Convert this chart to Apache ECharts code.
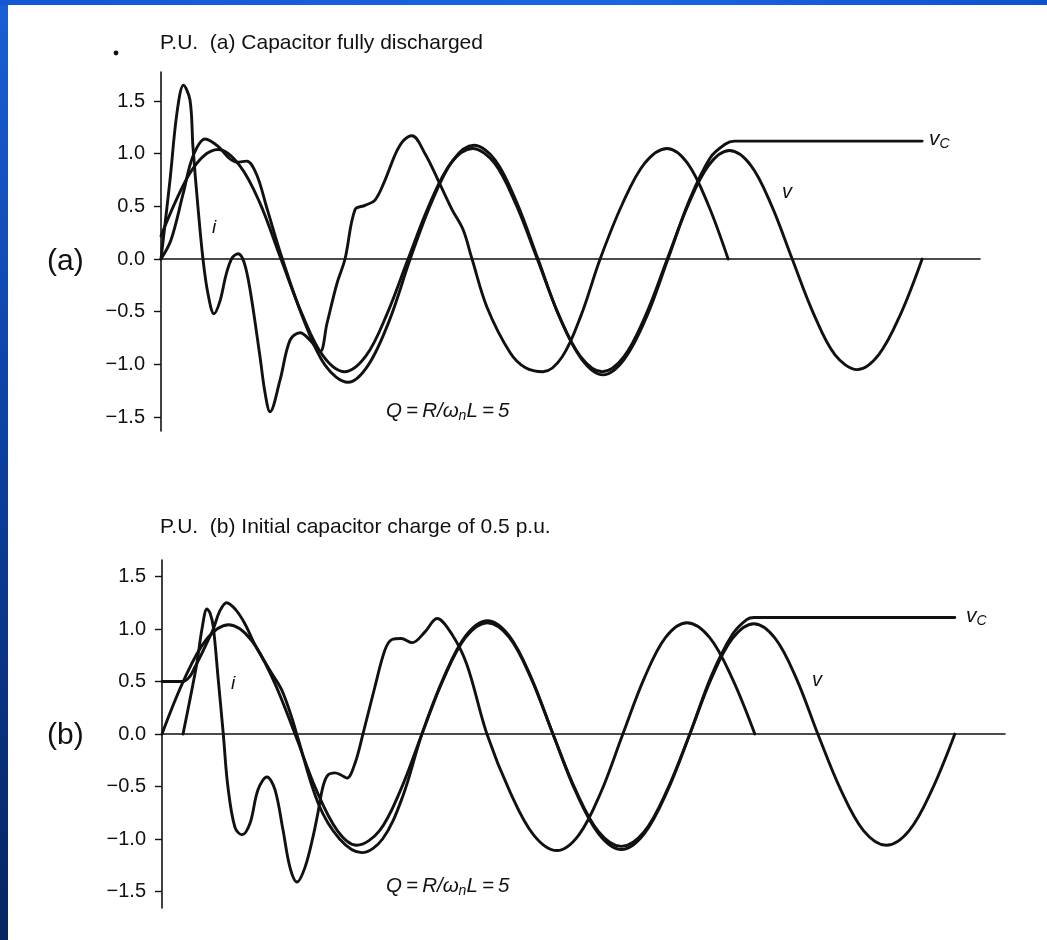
<!DOCTYPE html>
<html><head><meta charset="utf-8">
<script src="https://cdn.jsdelivr.net/npm/echarts@6/dist/echarts.min.js"></script>
<style>html,body{margin:0;padding:0;background:#fff;}#c{width:1047px;height:940px;}</style>
</head><body><div id="c"></div>
<script>
// time axis in electrical degrees from switch closing; values in p.u.
const yTicks = [-1.5, -1.0, -0.5, 0, 0.5, 1.0, 1.5];

// Panel (a): capacitor fully discharged
const vA = [[0,0.22],[20,0.54],[40,0.81],[60,0.98],[80,1.04],[110,0.89],[138,0.54],[168,0],[198,-0.53],[227,-0.92],[257,-1.07],[287,-0.92],[316,-0.53],[346,0],[376,0.52],[406,0.91],[436,1.05],[467,0.91],[497,0.52],[527,0],[557,-0.53],[588,-0.93],[618,-1.07],[648,-0.93],[679,-0.53],[709,0],[738,0.51],[767,0.89],[796,1.03],[826,0.89],[855,0.51],[884,0],[914,-0.52],[944,-0.91],[975,-1.05],[1005,-0.91],[1036,-0.52],[1066,0]];
const vcA = [[0,0],[14,0.18],[31,0.62],[45,0.98],[62,1.14],[80,1.07],[95,0.96],[106,0.92],[120,0.93],[134,0.8],[148,0.49],[170,0],[200,-0.58],[230,-1.01],[262,-1.17],[290,-1.01],[320,-0.58],[349,0],[379,0.54],[409,0.94],[438,1.08],[468,0.94],[498,0.54],[528,0],[558,-0.55],[589,-0.95],[619,-1.1],[649,-0.95],[680,-0.55],[710,0],[740,0.56],[769,0.96],[790,1.09],[803,1.12],[1066,1.12]];
const iA = [[0,0],[12.6,0.75],[22.4,1.39],[31.5,1.65],[40.6,1.51],[44.8,1.06],[51.8,0.49],[58.8,0],[65.8,-0.33],[74.2,-0.52],[82.6,-0.4],[91.1,-0.15],[99.5,0.01],[107.9,0.05],[116.3,-0.03],[124.7,-0.29],[138.7,-0.93],[145.7,-1.27],[152.7,-1.45],[166.7,-1.15],[180.7,-0.77],[194.7,-0.7],[208.7,-0.77],[222.7,-0.88],[232.5,-0.61],[246.5,-0.23],[257.7,0],[271.8,0.47],[285.8,0.51],[299.8,0.56],[313.8,0.75],[327.8,0.99],[339,1.12],[351.6,1.17],[369.8,1.0],[388,0.75],[407.6,0.47],[423,0.28],[435.6,0],[456.7,-0.46],[489,-0.89],[510,-1.03],[535,-1.07],[561.7,-0.93],[588.3,-0.535],[615,0],[646.3,0.525],[677.5,0.91],[708.8,1.05],[737.3,0.91],[765.8,0.525],[794.3,0]];

// Panel (b): initial capacitor charge of 0.5 p.u.
const vB = [[0,0],[30,0.52],[60,0.9],[90,1.04],[120,0.9],[150,0.52],[179.7,0],[208.3,-0.53],[236.9,-0.92],[263,-1.06],[294,-0.92],[322.6,-0.53],[351.2,0],[380.7,0.53],[410.2,0.92],[439.7,1.06],[469.2,0.92],[498.7,0.53],[528.2,0],[559,-0.535],[589.9,-0.93],[620.7,-1.07],[651.5,-0.93],[682.4,-0.535],[713.2,0],[742,0.525],[770.8,0.91],[799.7,1.05],[828.5,0.91],[857.3,0.525],[886.1,0],[917,-0.53],[947.8,-0.92],[978.7,-1.06],[1009.5,-0.92],[1040.4,-0.53],[1071.2,0]];
const vcB = [[0,0.5],[28.4,0.5],[37.8,0.55],[44.6,0.64],[51.3,0.73],[58.1,0.83],[69.3,1.0],[78,1.17],[87.4,1.25],[100,1.18],[112,1.05],[125.6,0.85],[148,0.58],[161.7,0.42],[175.2,0.16],[182,0],[211,-0.66],[240,-1.0],[270,-1.13],[298,-1.0],[325,-0.6],[351.2,0],[380.7,0.54],[410.2,0.935],[439.7,1.08],[469.2,0.935],[498.7,0.54],[528.2,0],[559,-0.55],[589.9,-0.95],[620.7,-1.1],[651.5,-0.95],[682.4,-0.55],[713.2,0],[742,0.55],[770.8,0.95],[790,1.09],[800,1.11],[1071.2,1.11]];
const iB = [[28.4,0],[37.8,0.33],[47.3,0.68],[54,1.0],[60.8,1.19],[65,1.15],[69.3,1.02],[76.1,0.51],[82.8,0],[89,-0.5],[98.6,-0.89],[108,-0.96],[118.9,-0.85],[129.7,-0.53],[141.8,-0.41],[152.6,-0.53],[163.4,-0.91],[172.9,-1.27],[182.4,-1.41],[193.2,-1.27],[204,-0.98],[210.7,-0.75],[217.5,-0.5],[224.2,-0.39],[233.7,-0.37],[241.8,-0.39],[249.9,-0.42],[260.7,-0.28],[271.5,0],[287.7,0.45],[301.2,0.8],[310.7,0.9],[323,0.91],[338,0.87],[355,0.97],[371.5,1.1],[391.7,0.95],[412,0.66],[439,0],[470.5,-0.555],[502,-0.96],[533.6,-1.11],[563.3,-0.96],[593,-0.555],[622.7,0],[651.5,0.53],[680.4,0.92],[709.2,1.06],[739.8,0.92],[770.4,0.53],[801,0]];

const FONT = '"Liberation Sans", Arial, Helvetica, sans-serif';
const ink = '#111111';
function fmt(v){ return (v < 0 ? '\u2212' : '') + Math.abs(v).toFixed(1); }

function yAx(gi, min, max){
  return {type:'value', gridIndex:gi, min:min, max:max,
    axisLine:{show:true, onZero:false, lineStyle:{color:ink, width:1.6}},
    axisTick:{show:true, length:7, customValues:yTicks, lineStyle:{color:ink, width:1.4}},
    axisLabel:{show:true, customValues:yTicks, formatter:fmt, margin:16, color:ink, fontSize:20, fontFamily:FONT},
    splitLine:{show:false}};
}
function xAx(gi, max){
  return {type:'value', gridIndex:gi, min:0, max:max,
    axisLine:{show:true, onZero:true, lineStyle:{color:ink, width:1.6}},
    axisTick:{show:false}, axisLabel:{show:false}, splitLine:{show:false}};
}
function line(data, gi){
  return {type:'line', xAxisIndex:gi, yAxisIndex:gi, data:data, smooth:0.35,
    showSymbol:false, symbol:'none', lineStyle:{color:ink, width:2.9, cap:'round', join:'round'}, silent:true, z:3};
}
function txt(x, y, s, size, opt){
  return Object.assign({type:'text', z:50, style:{text:s, x:x, y:y, fill:ink,
    font: (opt && opt.italic ? 'italic ' : '') + size + 'px ' + FONT,
    textAlign:(opt && opt.align) || 'left', textVerticalAlign:'middle',
    rich:(opt && opt.rich) || undefined}});
}
const subRich = {sub:{fontSize:14, fontStyle:'italic', fontFamily:FONT, fill:ink, padding:[10,0,0,0]}};
const T = '\u2009';

const chart = echarts.init(document.getElementById('c'), null, {renderer:'canvas'});
chart.setOption({
  backgroundColor:'#ffffff',
  animation:false,
  grid:[
    {left:161, top:72, width:819, height:359},
    {left:162, top:560, width:843, height:348}
  ],
  xAxis:[xAx(0, 1147), xAx(1, 1139)],
  yAxis:[yAx(0, -1.633, 1.776), yAx(1, -1.657, 1.657)],
  series:[line(vA,0), line(vcA,0), line(iA,0), line(vB,1), line(vcB,1), line(iB,1)],
  graphic:[
    {type:'rect', z:100, shape:{x:0, y:0, width:8, height:940},
      style:{fill:new echarts.graphic.LinearGradient(0,0,0,1,[{offset:0,color:'#1a5ed6'},{offset:0.5,color:'#0a3f9e'},{offset:1,color:'#062660'}])}},
    {type:'rect', z:100, shape:{x:0, y:0, width:1047, height:5},
      style:{fill:new echarts.graphic.LinearGradient(0,0,1,0,[{offset:0,color:'#1456d4'},{offset:0.6,color:'#1a66e0'},{offset:1,color:'#0f52cc'}])}},
    {type:'circle', z:50, shape:{cx:116, cy:53, r:2.4}, style:{fill:ink}},
    txt(160, 43, 'P.U.  (a) Capacitor fully discharged', 21),
    txt(160, 527, 'P.U.  (b) Initial capacitor charge of 0.5 p.u.', 21),
    txt(47, 262, '(a)', 30),
    txt(47, 736, '(b)', 30),
    txt(214, 228, 'i', 19, {italic:true, align:'center'}),
    txt(233, 684, 'i', 19, {italic:true, align:'center'}),
    txt(787, 192, 'v', 20, {italic:true, align:'center'}),
    txt(817, 680, 'v', 20, {italic:true, align:'center'}),
    txt(929, 139, 'v{sub|C}', 21, {italic:true, rich:subRich}),
    txt(966, 616, 'v{sub|C}', 21, {italic:true, rich:subRich}),
    txt(386, 411, 'Q'+T+'='+T+'R/ω{sub|n}L'+T+'='+T+'5', 20.5, {italic:true, rich:subRich}),
    txt(386, 886, 'Q'+T+'='+T+'R/ω{sub|n}L'+T+'='+T+'5', 20.5, {italic:true, rich:subRich})
  ]
});
</script>
</body></html>
